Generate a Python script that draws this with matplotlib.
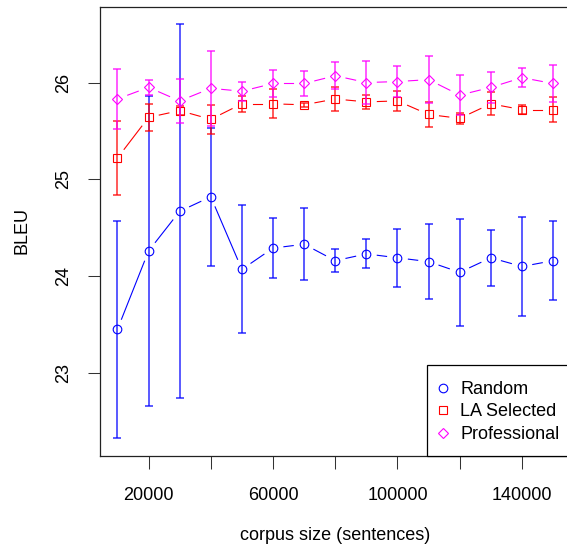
# BLEU vs corpus size, three selection strategies with error bars
import numpy as np
import matplotlib
matplotlib.use('Agg')
import matplotlib.pyplot as plt
from matplotlib.lines import Line2D
from matplotlib.patches import Rectangle
from matplotlib.transforms import IdentityTransform

plt.rcParams['font.family'] = ['Liberation Sans', 'DejaVu Sans']

# data
corpus_size = [10000, 20000, 30000, 40000, 50000, 60000, 70000, 80000,
               90000, 100000, 110000, 120000, 130000, 140000, 150000]
random_bleu = [23.45, 24.26, 24.67, 24.82, 24.07, 24.29, 24.33, 24.16,
               24.23, 24.19, 24.15, 24.04, 24.19, 24.10, 24.16]
random_err = [1.12, 1.60, 1.93, 0.71, 0.66, 0.31, 0.37, 0.12,
              0.15, 0.30, 0.39, 0.55, 0.29, 0.51, 0.41]
la_bleu = [25.22, 25.64, 25.71, 25.62, 25.78, 25.78, 25.77, 25.83,
           25.80, 25.81, 25.67, 25.63, 25.78, 25.72, 25.72]
la_err = [0.38, 0.14, 0.05, 0.15, 0.08, 0.15, 0.02, 0.12,
          0.07, 0.10, 0.13, 0.06, 0.12, 0.05, 0.13]
prof_bleu = [25.83, 25.95, 25.81, 25.94, 25.91, 25.99, 25.99, 26.07,
             26.00, 26.01, 26.03, 25.87, 25.95, 26.05, 25.99]
prof_err = [0.31, 0.08, 0.23, 0.39, 0.10, 0.14, 0.13, 0.14,
            0.22, 0.16, 0.24, 0.21, 0.16, 0.10, 0.19]
xticks = [20000, 40000, 60000, 80000, 100000, 120000, 140000]
xticklabels = ['20000', '', '60000', '', '100000', '', '140000']
yticks = [23, 24, 25, 26]

W, H = 567, 544
fig = plt.figure(figsize=(W / 100, H / 100), dpi=100)
# plot region runs past the right edge of the image, as in the original
ax = fig.add_axes([100 / W, (H - 455.5) / H, 470.5 / W, 448.5 / H])
ax.set_xlim(4400, 155600)
ax.set_ylim(22.148, 26.78)
ax.autoscale(False)


def gapped_line(x, y, color, gap=11):
    # R type="b": segments stop short of each point
    pts = ax.transData.transform(np.column_stack([x, y]))
    for (x0, y0), (x1, y1) in zip(pts[:-1], pts[1:]):
        d = np.hypot(x1 - x0, y1 - y0)
        if d <= 2 * gap:
            continue
        ux, uy = (x1 - x0) / d, (y1 - y0) / d
        ax.plot([x0 + gap * ux, x1 - gap * ux], [y0 + gap * uy, y1 - gap * uy],
                color=color, lw=0.8, transform=IdentityTransform())


series = [
    (random_bleu, random_err, '#0000ff', 'o', 6.2, 'Random'),
    (la_bleu, la_err, '#ff0000', 's', 5.8, 'LA Selected'),
    (prof_bleu, prof_err, '#ff00ff', 'D', 5.4, 'Professional'),
]
handles = []
for vals, err, col, mk, ms, lab in series:
    gapped_line(corpus_size, vals, col)
    ax.errorbar(corpus_size, vals, yerr=err, fmt='none', ecolor=col,
                elinewidth=1.3, capsize=2.6, capthick=1.3, alpha=0.7)
    ax.plot(corpus_size, vals, linestyle='none', marker=mk, ms=ms,
            mfc='none', mec=col, mew=0.8)
    handles.append(Line2D([], [], linestyle='none', marker=mk, ms=ms,
                          mfc='none', mec=col, mew=0.8, label=lab))

ax.set_xticks(xticks)
ax.set_xticklabels(xticklabels)
ax.set_yticks(yticks)
ax.tick_params(axis='x', length=9, width=0.75, pad=14, labelsize=13, color='#333333')
ax.tick_params(axis='y', length=9, width=0.75, pad=11, labelsize=13, color='#333333')
plt.setp(ax.get_yticklabels(), rotation=90, va='center')
for s in ax.spines.values():
    s.set_linewidth(0.9)
    s.set_color('#222222')

ax.set_xlabel('corpus size (sentences)', fontsize=13)
ax.xaxis.label.set_va('center')
ax.xaxis.set_label_coords(0.5, (455.5 - 535) / 448.5)
ax.set_ylabel('BLEU', fontsize=13)
ax.yaxis.label.set_va('center')
ax.yaxis.set_label_coords(-77.5 / 470.5, (455.5 - 231) / 448.5)

# legend box drawn by hand so the padding matches R's legend()
ax.add_patch(Rectangle((0.694, 0), 0.4, 0.202, transform=ax.transAxes,
                       facecolor='white', edgecolor='black', lw=0.9,
                       zorder=4.5, clip_on=False))
leg = ax.legend(handles=handles, loc='upper left', bbox_to_anchor=(0.7137, 0.166),
                borderaxespad=0, borderpad=0, fontsize=13, frameon=False,
                handlelength=0.8, handletextpad=0.55, labelspacing=0.3)

plt.savefig('out.png', dpi=100)
